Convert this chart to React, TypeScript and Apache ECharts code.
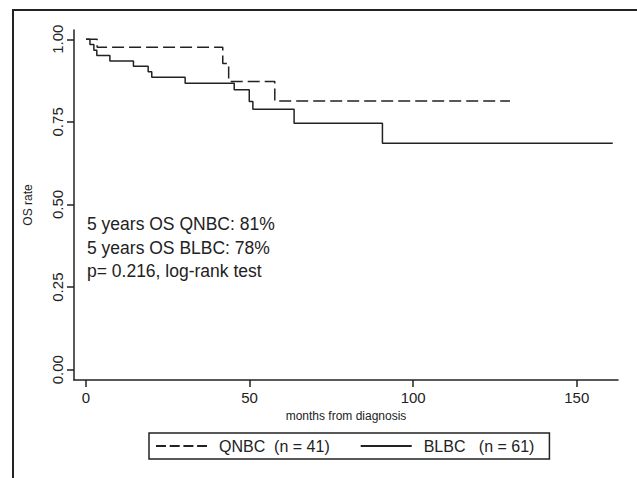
import React, { useEffect, useRef } from "react";
import * as echarts from "echarts";

const qnbcName = "QNBC  (n = 41)";
const blbcName = "BLBC   (n = 61)";
const qnbcMonths = [0, 3.4, 41.8, 43.6, 57.7, 129.6];
const qnbcSurvival = [1, 0.976, 0.927, 0.872, 0.813, 0.813];
const blbcMonths = [0, 1.2, 2.4, 3.3, 7.3, 14.5, 19, 20.1, 30.3, 45.3, 49.9, 51, 63.6, 90.6, 161];
const blbcSurvival = [1, 0.984, 0.967, 0.951, 0.934, 0.918, 0.902, 0.885, 0.867, 0.847, 0.812, 0.788, 0.746, 0.685, 0.685];
const xTicks = [0, 50, 100, 150];
const yTicks = [0, 0.25, 0.5, 0.75, 1];
const annotations = ["5 years OS QNBC: 81%", "5 years OS BLBC: 78%", "p= 0.216, log-rank test"];
const xTitle = "months from diagnosis";
const yTitle = "OS rate";

const FONT = "'Liberation Sans', Arial, Helvetica, sans-serif";
const INK = "#222";

export default function App() {
  const ref = useRef<HTMLDivElement>(null);
  useEffect(() => {
    if (!ref.current) return;
    const chart = echarts.init(ref.current, undefined, { renderer: "svg" });
    const pairs = (xs: number[], ys: number[]) => xs.map((x, i) => [x, ys[i]]);
    chart.setOption({
      animation: false,
      backgroundColor: "#fff",
      textStyle: { fontFamily: FONT, color: INK },
      grid: { left: 74, right: 19, top: 30, bottom: 98, containLabel: false },
      xAxis: {
        type: "value",
        min: -3.67,
        max: 162.6,
        name: xTitle,
        nameLocation: "middle",
        nameGap: 26,
        nameTextStyle: { fontSize: 12, color: INK, fontFamily: FONT },
        axisLine: { show: true, onZero: false, lineStyle: { color: INK, width: 1.5 } },
        axisTick: { show: true, length: 7, customValues: xTicks, lineStyle: { color: INK, width: 1.5 } },
        axisLabel: { customValues: xTicks, fontSize: 15, color: INK, margin: 10, fontFamily: FONT },
        splitLine: { show: false },
      },
      yAxis: {
        type: "value",
        min: -0.031,
        max: 1.028,
        name: yTitle,
        nameLocation: "middle",
        nameRotate: 90,
        nameGap: 40,
        nameTextStyle: { fontSize: 12, color: INK, fontFamily: FONT },
        axisLine: { show: true, onZero: false, lineStyle: { color: INK, width: 1.5 } },
        axisTick: { show: true, length: 7, customValues: yTicks, lineStyle: { color: INK, width: 1.5 } },
        axisLabel: {
          customValues: yTicks,
          rotate: 90,
          fontSize: 15,
          color: INK,
          margin: 9,
          fontFamily: FONT,
          formatter: (v: number) => v.toFixed(2),
        },
        splitLine: { show: false },
      },
      legend: {
        left: 149,
        top: 433,
        orient: "horizontal",
        padding: [5, 15, 5, 6],
        borderColor: INK,
        borderWidth: 1.5,
        borderRadius: 0,
        itemWidth: 51,
        itemHeight: 14,
        itemGap: 30,
        itemStyle: { opacity: 0 },
        textStyle: { fontSize: 16, color: INK, fontFamily: FONT, padding: [0, 0, 0, 7] },
        data: [{ name: qnbcName, lineStyle: { type: [10, 3.7] } }, { name: blbcName }],
      },
      graphic: [
        {
          type: "rect",
          silent: true,
          z: -1,
          shape: { x: 13, y: 10, width: 640, height: 490 },
          style: { fill: "none", stroke: INK, lineWidth: 2 },
        },
        ...annotations.map((t, i) => ({
          type: "text",
          silent: true,
          style: {
            x: 87,
            y: 224 + i * 23.5,
            text: t,
            fontSize: 17.5,
            fontFamily: FONT,
            fill: INK,
            verticalAlign: "middle",
          },
        })),
      ],
      series: [
        {
          name: qnbcName,
          type: "line",
          step: "end",
          symbol: "none",
          data: pairs(qnbcMonths, qnbcSurvival),
          lineStyle: { color: INK, width: 1.5, type: [12, 5] },
          itemStyle: { color: INK },
        },
        {
          name: blbcName,
          type: "line",
          step: "end",
          symbol: "none",
          data: pairs(blbcMonths, blbcSurvival),
          lineStyle: { color: INK, width: 1.5, type: "solid" },
          itemStyle: { color: INK },
        },
      ],
    });
    return () => chart.dispose();
  }, []);
  return (
    <div
      ref={ref}
      style={{ position: "absolute", left: 0, top: 0, width: 637, height: 478 }}
    />
  );
}
